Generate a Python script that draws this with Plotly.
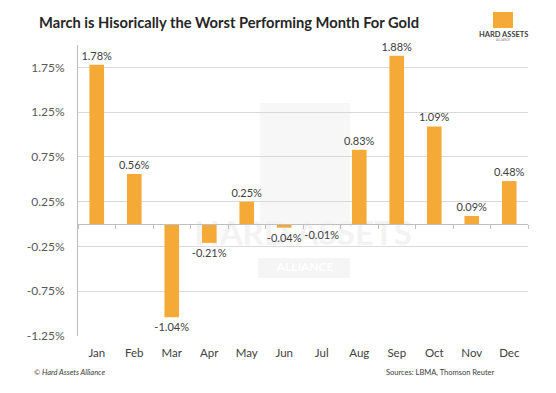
import plotly.graph_objects as go

months = ["Jan", "Feb", "Mar", "Apr", "May", "Jun", "Jul", "Aug", "Sep", "Oct", "Nov", "Dec"]
returns = [1.78, 0.56, -1.04, -0.21, 0.25, -0.04, -0.01, 0.83, 1.88, 1.09, 0.09, 0.48]
ytick_vals = [-1.25, -0.75, -0.25, 0.25, 0.75, 1.25, 1.75]
ytick_text = ["-1.25%", "-0.75%", "-0.25%", "0.25%", "0.75%", "1.25%", "1.75%"]
labels = [f"{v:.2f}%" for v in returns]

FONT = "Lato"
BAR = "#F5A936"
TXT = "#404040"
W, H = 556, 393
PL, PR, PT, PB = 78, 528, 45, 336   # plot area in pixels


def px(x):
    return x / W


def py(y):
    return 1 - y / H


ymin, ymax = -1.25, 2.0
xdom = [px(PL), px(PR)]
ydom = [py(PB), py(PT)]
zero_pos = ydom[0] + (0 - ymin) / (ymax - ymin) * (ydom[1] - ydom[0])
xrange_cat = [-0.5, len(months) - 0.5]

fig = go.Figure()
# watermark text on the base (hidden) subplot so it stays behind the bars
fig.add_trace(go.Scatter(x=[303], y=[237], xaxis="x3", yaxis="y3", mode="text",
                         text=["<b>HARD ASSETS</b>"], hoverinfo="skip", showlegend=False,
                         textfont=dict(family=FONT, size=33, color="#F3F3F3")))
fig.add_trace(go.Scatter(x=[305], y=[268], xaxis="x3", yaxis="y3", mode="text",
                         text=["<b>ALLIANCE</b>"], hoverinfo="skip", showlegend=False,
                         textfont=dict(family=FONT, size=12, color="#FFFFFF")))
fig.add_trace(go.Bar(
    x=months, y=returns, xaxis="x", yaxis="y", marker_color=BAR, marker_line_width=0,
    width=0.39, text=labels, textposition="outside", cliponaxis=False,
    constraintext="none",
    textfont=dict(family=FONT, size=11, color=TXT), showlegend=False,
))
# invisible trace to carry the zero-line axis with boundary ticks
fig.add_trace(go.Scatter(x=months, y=[0] * 12, xaxis="x2", yaxis="y", mode="markers",
                         marker_opacity=0, marker_size=1, showlegend=False, hoverinfo="skip"))

hidden = dict(showgrid=False, zeroline=False, showline=False, showticklabels=False, ticks="",
              automargin=False)
fig.update_layout(
    width=W, height=H,
    margin=dict(l=0, r=0, t=0, b=0),
    paper_bgcolor="white", plot_bgcolor="white",
    xaxis3=dict(domain=xdom, range=[PL, PR], anchor="y3", **hidden),
    yaxis3=dict(domain=ydom, range=[PB, PT], anchor="x3", **hidden),
    xaxis=dict(overlaying="x3", anchor="y", automargin=False, range=xrange_cat,
               categoryorder="array", categoryarray=months, showgrid=False,
               showline=False, ticks="", tickfont=dict(family=FONT, size=11.5, color=TXT),
               ticklabelstandoff=8),
    xaxis2=dict(overlaying="x3", anchor="free", position=zero_pos, automargin=False,
                range=xrange_cat,
                categoryorder="array", categoryarray=months,
                showline=True, linecolor="#BFBFBF", linewidth=1,
                ticks="outside", tickson="boundaries", ticklen=4, tickcolor="#BFBFBF",
                showticklabels=False, showgrid=False),
    yaxis=dict(overlaying="y3", anchor="x", range=[ymin, ymax], automargin=False,
               tickvals=ytick_vals, ticktext=ytick_text,
               showgrid=True, gridcolor="#D9D9D9", gridwidth=1, zeroline=False,
               showline=True, linecolor="#BFBFBF", linewidth=1, ticks="",
               tickfont=dict(family=FONT, size=12, color="#595959"), ticklabelstandoff=10),
)

# faint watermark boxes
fig.add_shape(type="rect", xref="paper", yref="paper", x0=px(260), x1=px(350), y0=py(225), y1=py(103),
              fillcolor="#F7F7F7", line_width=0, layer="below")
fig.add_shape(type="rect", xref="paper", yref="paper", x0=px(258), x1=px(350), y0=py(278), y1=py(258),
              fillcolor="#F5F5F5", line_width=0, layer="below")

# title
fig.add_annotation(text="<b>March is Hisorically the Worst Performing Month For Gold</b>",
                   xref="paper", yref="paper", x=px(37), y=py(22), xanchor="left",
                   yanchor="middle", showarrow=False,
                   font=dict(family=FONT, size=14.7, color="#262626"))
# logo
fig.add_shape(type="rect", xref="paper", yref="paper", x0=px(493), x1=px(513),
              y0=py(28), y1=py(12), fillcolor=BAR, line_width=0)
fig.add_annotation(text="<b>HARD ASSETS</b>", xref="paper", yref="paper", x=px(503),
                   y=py(34), showarrow=False, xanchor="center", yanchor="middle",
                   font=dict(family=FONT, size=7.5, color="#404040"))
fig.add_annotation(text="ALLIANCE", xref="paper", yref="paper", x=px(503),
                   y=py(39.5), showarrow=False, xanchor="center", yanchor="middle",
                   font=dict(family=FONT, size=3, color="#808080"))
# footer
fig.add_annotation(text="<i>© Hard Assets Alliance</i>", xref="paper", yref="paper",
                   x=px(32), y=py(372), xanchor="left", yanchor="middle", showarrow=False,
                   font=dict(family=FONT, size=7.5, color="#404040"))
fig.add_annotation(text="Sources: LBMA, Thomson Reuter", xref="paper", yref="paper",
                   x=px(497), y=py(372), xanchor="right", yanchor="middle", showarrow=False,
                   font=dict(family=FONT, size=7.5, color="#404040"))

fig.write_html("out.html", config={"displayModeBar": False},
               post_script="document.body.style.margin='0';")
